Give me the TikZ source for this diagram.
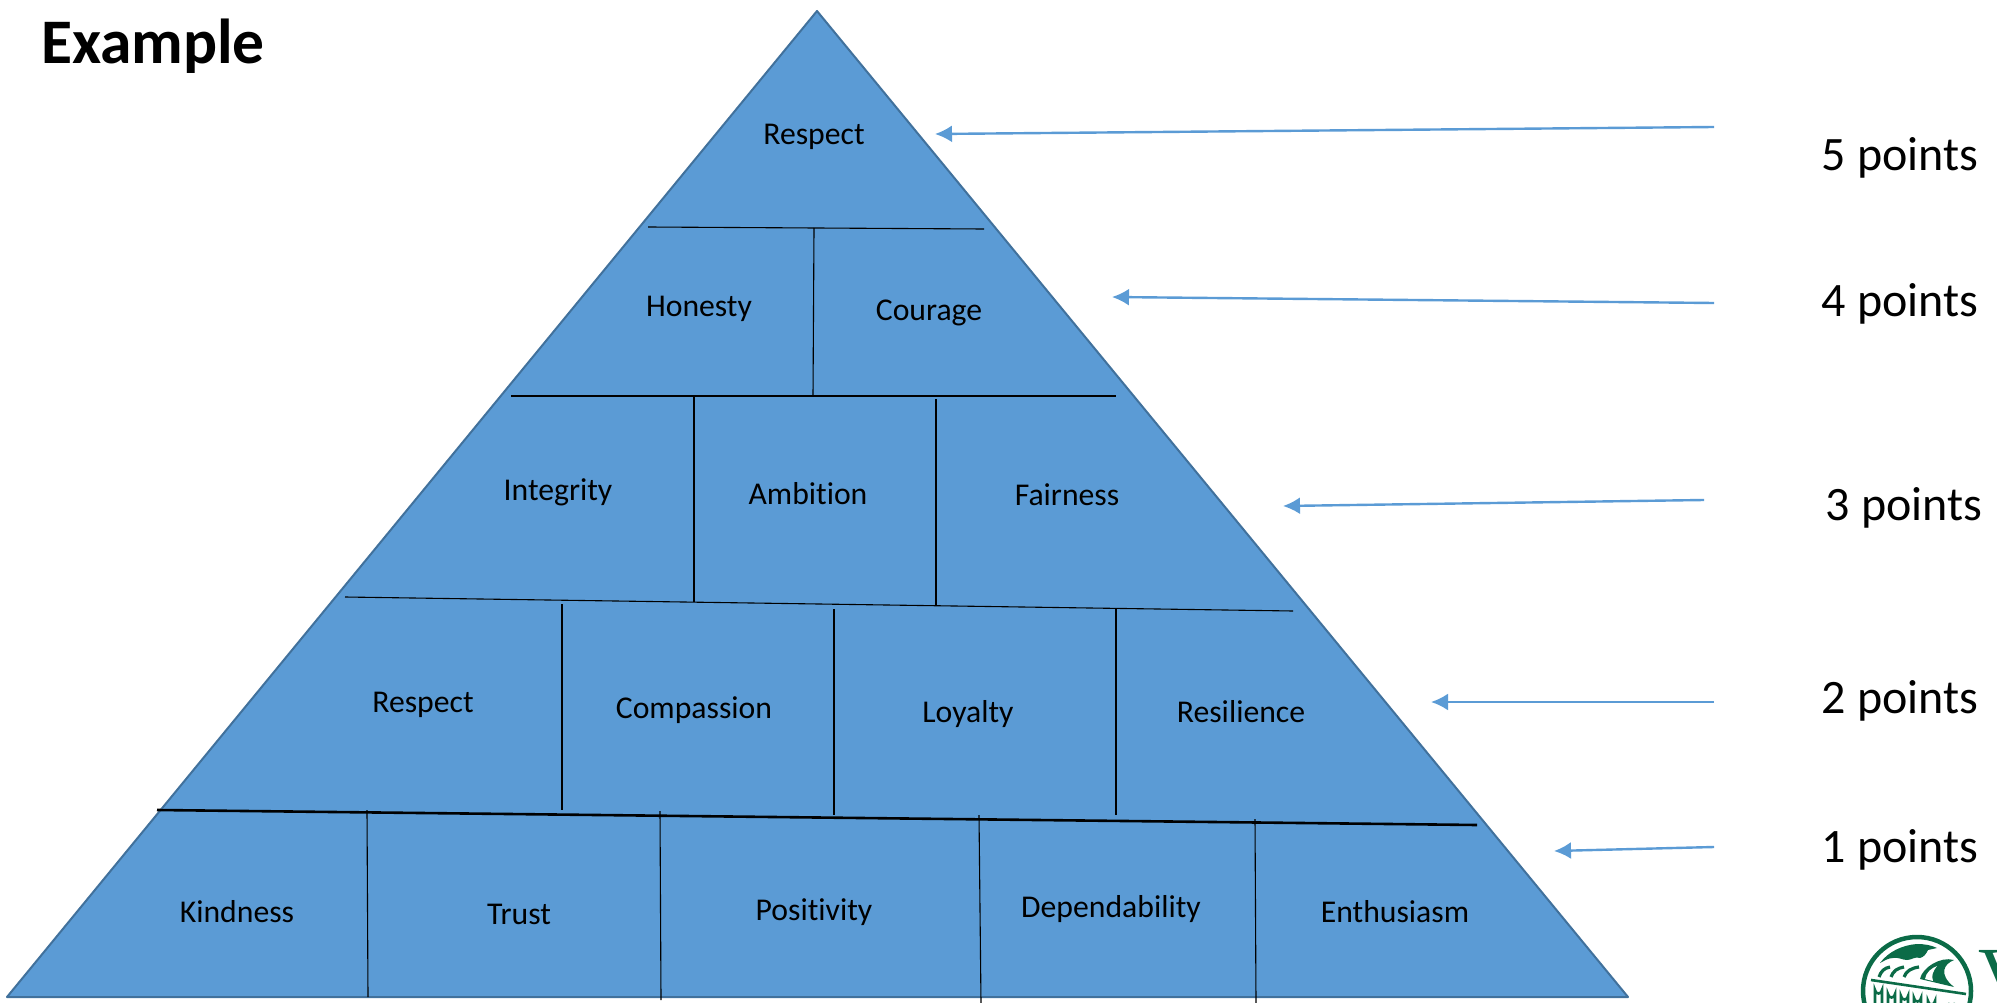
\documentclass[tikz,border=0pt]{standalone}
\usepackage{fontspec}
\setmainfont[Ligatures=NoCommon]{Carlito}
\newfontfamily\logofont{Liberation Serif}
\usetikzlibrary{arrows.meta}
\definecolor{pyrfill}{HTML}{5B9BD5}
\definecolor{pyredge}{HTML}{41719C}
\definecolor{logogreen}{HTML}{0B6B47}

\begin{document}
\begin{tikzpicture}[x=1pt, y=-1pt,
    word/.style={inner sep=0pt, font=\fontsize{31.7}{36}\selectfont},
    pts/.style={inner sep=0pt, font=\fontsize{48}{56}\selectfont},
    divider/.style={black, line width=1.1pt},
    pointer/.style={pyrfill, line width=2.4pt, -{Latex[length=17pt,width=17pt]}}]

\useasboundingbox (0,0) rectangle (1997,1003);
\clip (0,0) rectangle (1997,1003);

% Title
\node[inner sep=0pt, font=\fontsize{63.5}{74}\selectfont\bfseries] (title) at (153,46) {Example};

% Pyramid
\draw[fill=pyrfill, draw=pyredge, line width=2pt, line join=round] (817,11) -- (1628,997) -- (7,997) -- cycle;

% Rows of the pyramid
\draw[divider] (648,227) -- (984,229);
\draw[divider] (511,396) -- (1116,396);
\draw[divider] (345,597) -- (1293,611);
\draw[black, line width=2.6pt] (157,810) -- (1477,825);

% Walls between the words
\foreach \xa/\ya/\xb/\yb in {814/228/813/396, 694/396/694/602, 936/399/936/605,
    562/604/562/810, 834/609/834/815, 1116/609/1116/815,
    367/810/368/997, 660/811/661/1000, 979/815/981/1003, 1255/819/1256/1003} {
    \draw[divider] (\xa,\ya) -- (\xb,\yb);
}

% Words in the pyramid
\node[word] (top) at (814,137) {Respect};
\node[word] (honesty) at (699,309) {Honesty};
\node[word] (courage) at (929,313) {Courage};
\node[word] (integrity) at (558,492) {Integrity};
\node[word] (ambition) at (808,494) {Ambition};
\node[word] (fairness) at (1067,495) {Fairness};
\node[word] (respect) at (423,705) {Respect};
\node[word] (compassion) at (694,710) {Compassion};
\node[word] (loyalty) at (968,714) {Loyalty};
\node[word] (resilience) at (1241,712) {Resilience};
\node[word] (kindness) at (237,912) {Kindness};
\node[word] (trust) at (519,914) {Trust};
\node[word] (positivity) at (814,912) {Positivity};
\node[word] (dependability) at (1111,909) {Dependability};
\node[word] (enthusiasm) at (1395,912) {Enthusiasm};

% Points on the right
\node[pts] (p5) at (1900,158) {5 points};
\node[pts] (p4) at (1900,304) {4 points};
\node[pts] (p3) at (1904,508) {3 points};
\node[pts] (p2) at (1900,701) {2 points};
\node[pts] (p1) at (1900,850) {1 points};

% Arrows
\foreach \i/\xa/\ya/\xb/\yb in {5/1714/127/935/134, 4/1714/303/1112/297, 3/1704/500/1283/506,
    2/1714/702/1431/702, 1/1714/847/1554/851} {
    \coordinate (tail\i) at (\xa,\ya);
    \coordinate (tip\i) at (\xb,\yb);
    \draw[pointer] (tail\i) -- (tip\i);
}

% Logo
\draw[logogreen, line width=4.5pt] (1917,991) circle (54);
\fill[logogreen] (1880,963) .. controls (1888,952) and (1902,945) .. (1917,944)
    .. controls (1924,944) and (1931,945) .. (1937,948) -- (1928,950)
    .. controls (1926,954) and (1924,957) .. (1920,958)
    .. controls (1915,956) and (1912,960) .. (1907,960)
    .. controls (1902,960) and (1899,957) .. (1893,958) .. controls (1888,958) and (1884,961) .. (1880,963) -- cycle;
\foreach \wx/\wt in {1879/11, 1891/13, 1904/15} {
    \draw[logogreen, line width=3.2pt] (\wx,977) .. controls (\wx+2,971) and (\wx+\wt/2,968) .. (\wx+\wt,967);
}
\fill[logogreen] (1920,979) .. controls (1922,968) and (1940,956) .. (1954,960)
    .. controls (1944,964) and (1938,974) .. (1954,987) -- cycle;
\fill[white] (1925,979) .. controls (1926,972) and (1932,968) .. (1937,966)
    .. controls (1933,971) and (1931,976) .. (1933,981) -- cycle;
\draw[logogreen, line width=2.6pt] (1871,980) -- (1966,994);
\foreach \ax/\ay in {1875/985, 1888/989, 1901/991, 1914/993, 1928/996, 1948/998} {
    \draw[logogreen, line width=2.6pt] (\ax,1003) -- (\ax,\ay+5) arc[start angle=180, end angle=0, radius=3.5] -- (\ax+7,1003);
}
\node[inner sep=0pt, anchor=north west, text=logogreen, font=\fontsize{78}{84}\logofont\selectfont] (logoletter) at (1978,950) {V};

\end{tikzpicture}
\end{document}
